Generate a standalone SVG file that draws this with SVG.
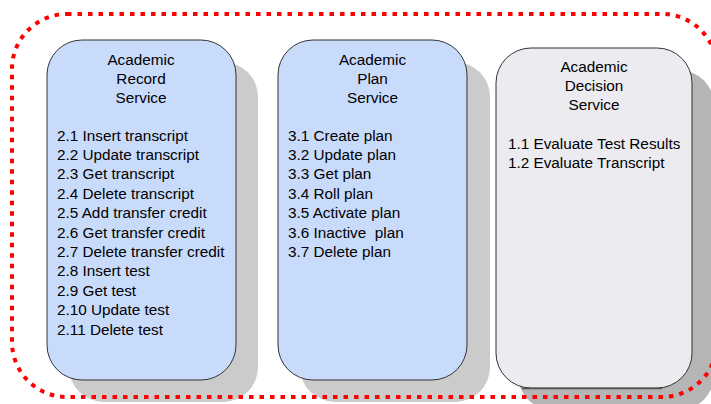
<svg xmlns="http://www.w3.org/2000/svg" width="711" height="404" viewBox="0 0 711 404">
  <style>
    .box { stroke: #333333; stroke-width: 1; }
    .blue { fill: #c9dbfb; }
    .grey { fill: #ecebf0; }
    .shadow { fill: #cbcbcb; }
    .shadow-dark { fill: #b5b5b5; }
    text { font-family: "Liberation Sans", Arial, sans-serif; font-size: 15.3px; fill: #000000; white-space: pre; }
    .title { text-anchor: middle; }
    .frame { fill: none; stroke: #ff0000; stroke-width: 4; stroke-dasharray: 4.5 6; }
  </style>
  <rect width="711" height="404" fill="#ffffff"/>

  <!-- shadows -->
  <rect class="shadow" x="69" y="62" width="189" height="340" rx="35"/>
  <rect class="shadow" x="300" y="62" width="190" height="340" rx="35"/>
  <rect class="shadow-dark" x="518" y="70" width="196" height="340" rx="35"/>

  <g id="academic-record-service">
    <rect class="box blue" x="47" y="40" width="189" height="340" rx="35"/>
    <text class="title" x="141" y="65">Academic</text>
    <text class="title" x="141" y="84">Record</text>
    <text class="title" x="141" y="103">Service</text>
    <text x="57" y="140.5">2.1 Insert transcript</text>
    <text x="57" y="159.9">2.2 Update transcript</text>
    <text x="57" y="179.3">2.3 Get transcript</text>
    <text x="57" y="198.7">2.4 Delete transcript</text>
    <text x="57" y="218.1">2.5 Add transfer credit</text>
    <text x="57" y="237.5">2.6 Get transfer credit</text>
    <text x="57" y="256.9">2.7 Delete transfer credit</text>
    <text x="57" y="276.3">2.8 Insert test</text>
    <text x="57" y="295.7">2.9 Get test</text>
    <text x="57" y="315.1">2.10 Update test</text>
    <text x="57" y="334.5">2.11 Delete test</text>
  </g>

  <g id="academic-plan-service">
    <rect class="box blue" x="278" y="40" width="189" height="340" rx="35"/>
    <text class="title" x="372.5" y="65">Academic</text>
    <text class="title" x="372.5" y="84">Plan</text>
    <text class="title" x="372.5" y="103">Service</text>
    <text x="288" y="140.5">3.1 Create plan</text>
    <text x="288" y="159.9">3.2 Update plan</text>
    <text x="288" y="179.3">3.3 Get plan</text>
    <text x="288" y="198.7">3.4 Roll plan</text>
    <text x="288" y="218.1">3.5 Activate plan</text>
    <text x="288" y="237.5" xml:space="preserve">3.6 Inactive  plan</text>
    <text x="288" y="256.9">3.7 Delete plan</text>
  </g>

  <g id="academic-decision-service">
    <rect class="box grey" x="496" y="48" width="196" height="340" rx="35"/>
    <path d="M522 388.5 H662" stroke="#555555" stroke-width="1.5" fill="none"/>
    <text class="title" x="594" y="72">Academic</text>
    <text class="title" x="594" y="91">Decision</text>
    <text class="title" x="594" y="110">Service</text>
    <text x="508" y="149">1.1 Evaluate Test Results</text>
    <text x="508" y="168">1.2 Evaluate Transcript</text>
  </g>

  <!-- dotted boundary around the services -->
  <g id="connectors">
    <rect class="frame" x="12" y="14" width="705" height="383" rx="55"/>
  </g>
</svg>
